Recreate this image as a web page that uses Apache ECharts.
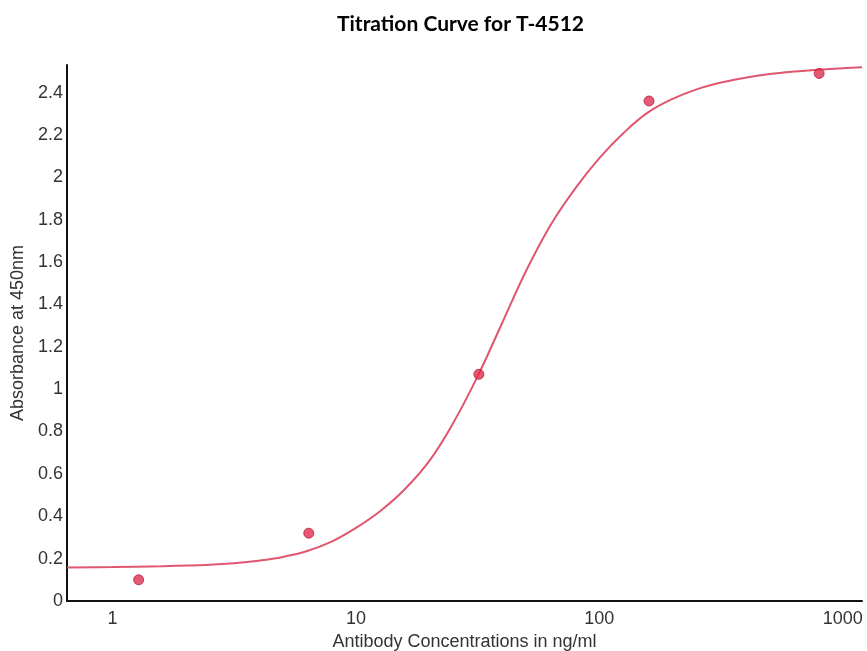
<!DOCTYPE html>
<html>
<head>
<meta charset="utf-8">
<script src="https://cdn.jsdelivr.net/npm/echarts@6/dist/echarts.min.js"></script>
<style>
  html, body { margin: 0; padding: 0; background: #fff; }
  #main { width: 867px; height: 651px; }
</style>
</head>
<body>
<div id="main"></div>
<script>
// measured points (ng/ml, OD450)
var concs = [1.28, 6.4, 32, 160, 800];
var absorb = [0.1, 0.32, 1.07, 2.36, 2.49];

// fitted curve at ~0.1 decade steps
var curveX = [0.65, 1, 1.58, 2.51, 3.16, 3.98, 5.01, 6.31, 7.94, 10, 12.6, 15.8, 20, 25.1, 31.6, 39.8, 50.1, 63.1, 79.4, 100, 126, 158, 200, 251, 316, 398, 501, 631, 794, 1000, 1200];
var curveY = [0.158, 0.16, 0.164, 0.171, 0.178, 0.19, 0.208, 0.236, 0.28, 0.345, 0.425, 0.525, 0.66, 0.84, 1.06, 1.31, 1.56, 1.775, 1.945, 2.09, 2.21, 2.305, 2.37, 2.415, 2.447, 2.47, 2.487, 2.499, 2.508, 2.515, 2.519];

var xTicks = [1, 10, 100, 1000];

var pts = concs.map(function (c, i) { return [c, absorb[i]]; });
var curve = curveX.map(function (c, i) { return [c, curveY[i]]; });

var myChart = echarts.init(document.getElementById("main"));
myChart.setOption({
  animation: false,
  title: {
    text: "Titration Curve for T-4512",
    left: 332,
    top: 9,
    textStyle: {
      fontFamily: "Lato",
      fontSize: 21,
      fontWeight: "bold",
      color: "#000"
    }
  },
  grid: {
    left: 67,
    right: 5,
    top: 65,
    bottom: 50,
    outerBoundsMode: "none",
    containLabel: false
  },
  xAxis: {
    type: "log",
    logBase: 10,
    min: 0.65,
    max: 1200,
    name: "Antibody Concentrations in ng/ml",
    nameLocation: "middle",
    nameGap: 30,
    nameTextStyle: { fontFamily: "Liberation Sans", fontSize: 18, color: "#333" },
    axisLine: { lineStyle: { color: "#111", width: 2 } },
    axisTick: { show: false },
    splitLine: { show: false },
    axisLabel: {
      showMinLabel: false,
      showMaxLabel: false,
      margin: 9,
      fontFamily: "Liberation Sans",
      fontSize: 18,
      color: "#333",
      formatter: function (v) {
        for (var i = 0; i < xTicks.length; i++) {
          if (Math.abs(v - xTicks[i]) < 1e-6 * xTicks[i]) return String(xTicks[i]);
        }
        return "";
      }
    }
  },
  yAxis: {
    type: "value",
    min: 0,
    max: 2.53,
    interval: 0.2,
    name: "Absorbance at 450nm",
    nameLocation: "middle",
    nameGap: 36,
    nameTextStyle: { fontFamily: "Liberation Sans", fontSize: 18, color: "#333" },
    axisLine: { show: true, lineStyle: { color: "#111", width: 2 } },
    axisTick: { show: false },
    splitLine: { show: false },
    axisLabel: {
      showMaxLabel: false,
      margin: 4,
      fontFamily: "Liberation Sans",
      fontSize: 18,
      color: "#333"
    }
  },
  series: [
    {
      name: "fit",
      type: "line",
      data: curve,
      smooth: 0.4,
      showSymbol: false,
      lineStyle: { color: "#e0566f", width: 2 },
      z: 2
    },
    {
      name: "data",
      type: "scatter",
      data: pts,
      symbolSize: 10,
      itemStyle: { color: "#e0304f", borderColor: "#b81d3a", borderWidth: 1 },
      z: 3
    }
  ]
});
</script>
</body>
</html>
